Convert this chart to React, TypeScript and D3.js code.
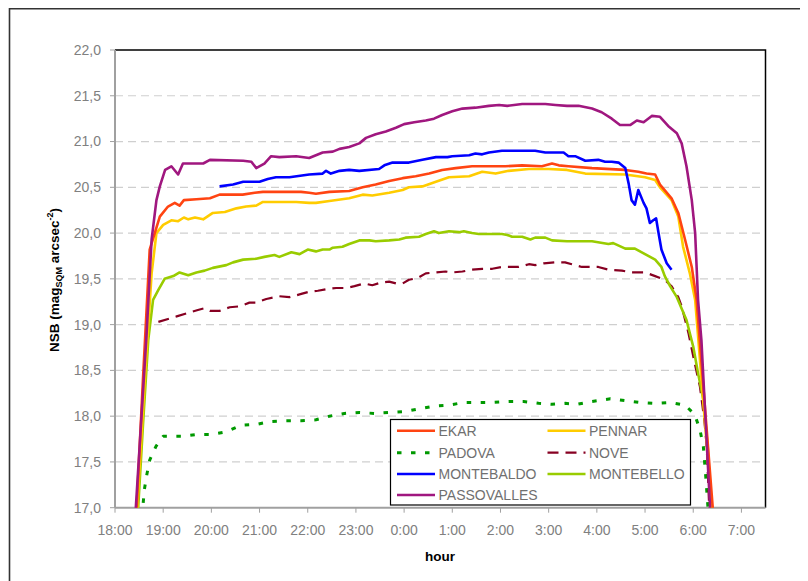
import React from "react";
import * as d3 from "d3";

// Night sky brightness (mag_SQM arcsec^-2) by station, time in hours after 18:00
const hourLabels = ["18:00", "19:00", "20:00", "21:00", "22:00", "23:00", "0:00", "1:00", "2:00", "3:00", "4:00", "5:00", "6:00", "7:00"];
const yTicks = [17, 17.5, 18, 18.5, 19, 19.5, 20, 20.5, 21, 21.5, 22];

const ekarHours = [0.44, 0.58, 0.72, 0.93, 1.1, 1.24, 1.34, 1.43, 1.69, 1.97, 2.17, 2.65, 2.9, 3.07, 3.48, 3.86, 4.03, 4.17, 4.45, 4.86, 5.14, 5.41, 5.69, 5.97, 6.24, 6.52, 6.79, 7.07, 7.41, 7.76, 8.1, 8.45, 8.86, 9.07, 9.21, 9.41, 9.9, 10.59, 10.86, 11.03, 11.21, 11.31, 11.55, 11.69, 11.83, 11.97, 12.07, 12.42];
const ekarNsb = [16.9, 18.4, 19.82, 20.18, 20.29, 20.33, 20.3, 20.36, 20.37, 20.38, 20.42, 20.42, 20.44, 20.45, 20.45, 20.45, 20.44, 20.43, 20.45, 20.46, 20.5, 20.53, 20.57, 20.6, 20.62, 20.65, 20.69, 20.71, 20.73, 20.73, 20.73, 20.74, 20.73, 20.76, 20.74, 20.73, 20.71, 20.69, 20.67, 20.65, 20.64, 20.53, 20.38, 20.22, 19.93, 19.63, 19.27, 16.9];

const pennarHours = [0.45, 0.62, 0.76, 0.86, 1.0, 1.17, 1.31, 1.43, 1.52, 1.66, 1.83, 2.03, 2.28, 2.52, 2.72, 2.93, 3.07, 3.41, 3.76, 4.03, 4.17, 4.45, 4.86, 5.14, 5.34, 5.69, 5.97, 6.1, 6.38, 6.66, 6.93, 7.35, 7.62, 7.9, 8.17, 8.59, 9.0, 9.38, 9.76, 10.59, 11.0, 11.21, 11.31, 11.55, 11.69, 11.79, 11.93, 12.04, 12.4];
const pennarNsb = [16.9, 18.4, 19.56, 20.0, 20.09, 20.14, 20.13, 20.17, 20.15, 20.17, 20.15, 20.22, 20.23, 20.27, 20.29, 20.3, 20.34, 20.34, 20.34, 20.33, 20.33, 20.35, 20.38, 20.42, 20.41, 20.44, 20.47, 20.5, 20.51, 20.56, 20.61, 20.62, 20.67, 20.65, 20.68, 20.7, 20.7, 20.69, 20.65, 20.64, 20.61, 20.58, 20.5, 20.36, 20.18, 19.85, 19.56, 19.27, 16.9];

const padovaHours = [0.56, 0.61, 0.66, 0.72, 0.85, 1.0, 1.38, 1.69, 2.0, 2.31, 2.62, 2.93, 3.21, 3.55, 3.86, 4.17, 4.45, 4.76, 5.07, 5.38, 5.69, 6.0, 6.31, 6.62, 6.93, 7.24, 7.55, 7.86, 8.17, 8.48, 8.79, 9.07, 9.34, 9.6, 9.9, 10.28, 10.59, 10.9, 11.21, 11.52, 11.83, 12.03, 12.14, 12.21, 12.26, 12.32];
const padovaNsb = [16.9, 17.2, 17.36, 17.52, 17.67, 17.78, 17.78, 17.8, 17.8, 17.83, 17.9, 17.91, 17.94, 17.95, 17.95, 17.96, 18.0, 18.03, 18.04, 18.03, 18.04, 18.05, 18.08, 18.11, 18.12, 18.15, 18.15, 18.15, 18.16, 18.16, 18.14, 18.13, 18.14, 18.13, 18.16, 18.19, 18.17, 18.15, 18.14, 18.15, 18.12, 18.02, 17.85, 17.67, 17.34, 16.9];

const noveHours = [0.9, 1.28, 1.72, 1.86, 1.97, 2.17, 2.38, 2.59, 2.79, 2.93, 3.14, 3.41, 3.62, 3.83, 4.03, 4.21, 4.41, 4.59, 4.79, 4.97, 5.17, 5.34, 5.52, 5.69, 5.83, 5.97, 6.1, 6.28, 6.45, 6.66, 6.86, 7.0, 7.21, 7.41, 7.62, 7.83, 8.03, 8.17, 8.38, 8.59, 8.72, 8.9, 9.14, 9.34, 9.48, 9.69, 10.03, 10.24, 10.52, 10.72, 11.0, 11.21, 11.41, 11.55, 11.69, 11.76, 11.9, 12.03, 12.14, 12.23, 12.28, 12.34];
const noveNsb = [19.03, 19.09, 19.16, 19.18, 19.15, 19.15, 19.19, 19.2, 19.24, 19.24, 19.28, 19.31, 19.3, 19.33, 19.36, 19.37, 19.39, 19.4, 19.4, 19.42, 19.45, 19.43, 19.46, 19.47, 19.45, 19.45, 19.49, 19.51, 19.56, 19.57, 19.58, 19.57, 19.58, 19.6, 19.61, 19.61, 19.63, 19.63, 19.63, 19.66, 19.65, 19.67, 19.68, 19.68, 19.66, 19.63, 19.63, 19.6, 19.59, 19.57, 19.57, 19.53, 19.49, 19.42, 19.3, 19.2, 18.91, 18.58, 18.32, 17.96, 17.67, 16.9];

const montebaldoHours = [2.17, 2.45, 2.66, 3.0, 3.17, 3.34, 3.62, 4.03, 4.31, 4.38, 4.48, 4.66, 4.86, 5.07, 5.48, 5.59, 5.76, 6.1, 6.38, 6.66, 6.9, 7.0, 7.35, 7.48, 7.62, 7.76, 8.03, 8.59, 8.72, 8.93, 9.21, 9.31, 9.41, 9.55, 9.76, 10.03, 10.17, 10.31, 10.45, 10.59, 10.66, 10.72, 10.79, 10.86, 10.97, 11.03, 11.1, 11.17, 11.23, 11.28, 11.34, 11.45, 11.55];
const montebaldoNsb = [20.51, 20.53, 20.56, 20.56, 20.59, 20.61, 20.61, 20.64, 20.65, 20.68, 20.65, 20.68, 20.69, 20.68, 20.7, 20.74, 20.77, 20.77, 20.8, 20.83, 20.83, 20.84, 20.85, 20.87, 20.86, 20.88, 20.9, 20.9, 20.9, 20.88, 20.88, 20.88, 20.84, 20.84, 20.79, 20.8, 20.78, 20.78, 20.77, 20.71, 20.54, 20.36, 20.31, 20.47, 20.33, 20.27, 20.11, 20.14, 20.16, 20.0, 19.82, 19.67, 19.6];

const montebelloHours = [0.47, 0.58, 0.69, 0.79, 0.9, 1.03, 1.21, 1.34, 1.52, 1.69, 1.86, 2.03, 2.31, 2.45, 2.66, 2.93, 3.1, 3.31, 3.41, 3.66, 3.83, 4.0, 4.17, 4.31, 4.45, 4.52, 4.72, 4.86, 5.07, 5.28, 5.41, 5.69, 5.9, 6.03, 6.31, 6.45, 6.62, 6.72, 6.93, 7.14, 7.24, 7.41, 7.55, 8.03, 8.14, 8.24, 8.45, 8.62, 8.72, 8.93, 9.07, 9.38, 9.62, 9.9, 10.24, 10.34, 10.59, 10.79, 11.0, 11.21, 11.34, 11.41, 11.52, 11.66, 11.86, 12.0, 12.1, 12.21, 12.3, 12.38];
const montebelloNsb = [16.9, 17.9, 18.83, 19.27, 19.38, 19.5, 19.53, 19.57, 19.54, 19.57, 19.59, 19.62, 19.65, 19.68, 19.71, 19.72, 19.74, 19.76, 19.74, 19.79, 19.77, 19.82, 19.8, 19.82, 19.82, 19.84, 19.85, 19.88, 19.92, 19.92, 19.91, 19.92, 19.93, 19.95, 19.96, 19.99, 20.02, 20.0, 20.02, 20.01, 20.02, 20.0, 19.99, 19.99, 19.98, 19.96, 19.96, 19.93, 19.95, 19.95, 19.92, 19.91, 19.91, 19.91, 19.88, 19.89, 19.83, 19.83, 19.77, 19.71, 19.63, 19.53, 19.42, 19.3, 19.05, 18.76, 18.47, 18.18, 17.67, 16.9];

const passovallesHours = [0.42, 0.55, 0.656, 0.76, 0.86, 0.93, 1.04, 1.17, 1.31, 1.41, 1.83, 1.97, 2.66, 2.83, 2.93, 3.1, 3.24, 3.41, 3.76, 4.03, 4.31, 4.52, 4.66, 4.86, 5.07, 5.21, 5.41, 5.62, 5.83, 6.0, 6.21, 6.45, 6.62, 6.79, 7.0, 7.21, 7.48, 7.76, 7.97, 8.14, 8.45, 8.93, 9.14, 9.38, 9.62, 9.9, 10.1, 10.31, 10.48, 10.69, 10.83, 10.97, 11.14, 11.31, 11.48, 11.66, 11.76, 11.86, 11.97, 12.04, 12.1, 12.17, 12.36];
const passovallesNsb = [16.9, 18.0, 18.9, 19.93, 20.36, 20.51, 20.69, 20.73, 20.64, 20.76, 20.76, 20.8, 20.79, 20.78, 20.71, 20.76, 20.84, 20.83, 20.84, 20.82, 20.88, 20.89, 20.92, 20.94, 20.98, 21.04, 21.08, 21.11, 21.15, 21.19, 21.21, 21.23, 21.25, 21.29, 21.33, 21.36, 21.37, 21.39, 21.4, 21.39, 21.41, 21.41, 21.4, 21.39, 21.39, 21.36, 21.32, 21.25, 21.18, 21.18, 21.23, 21.21, 21.28, 21.27, 21.17, 21.09, 20.98, 20.73, 20.36, 20.0, 19.27, 18.83, 16.9];

type Series = { name: string; hours: number[]; nsb: number[]; color: string; dash?: string; width: number };

const series: Series[] = [
  { name: "EKAR", hours: ekarHours, nsb: ekarNsb, color: "#FF4412", width: 2.6 },
  { name: "PENNAR", hours: pennarHours, nsb: pennarNsb, color: "#FFCC00", width: 2.6 },
  { name: "PADOVA", hours: padovaHours, nsb: padovaNsb, color: "#009900", dash: "4.5,9.5", width: 3 },
  { name: "NOVE", hours: noveHours, nsb: noveNsb, color: "#870022", dash: "11,7", width: 2.2 },
  { name: "MONTEBALDO", hours: montebaldoHours, nsb: montebaldoNsb, color: "#0000FF", width: 2.6 },
  { name: "MONTEBELLO", hours: montebelloHours, nsb: montebelloNsb, color: "#99CC00", width: 2.6 },
  { name: "PASSOVALLES", hours: passovallesHours, nsb: passovallesNsb, color: "#A0177F", width: 2.6 },
];

// drawing order: later entries on top
const drawOrder = ["PADOVA", "NOVE", "MONTEBELLO", "PENNAR", "EKAR", "MONTEBALDO", "PASSOVALLES"];

const left = 115;
const right = 765.5;
const top = 50;
const bottom = 507.7;

export default function App() {
  const x = d3.scaleLinear().domain([0, 13.5]).range([left, right]);
  const y = d3.scaleLinear().domain([17, 22]).range([bottom, top]);
  const line = d3
    .line<[number, number]>()
    .x((d) => x(d[0]))
    .y((d) => y(d[1]));

  const font = "'Liberation Sans', Arial, sans-serif";
  const hourTicks = hourLabels.map((_, i) => i);

  const legendCols = [397, 547.5];
  const legendRows = [430.7, 452.7, 474, 495];

  return (
    <svg width={800} height={573} style={{ display: "block" }} fontFamily={font}>
      <g transform="translate(-8,-8)">
        <rect x={8} y={8} width={800} height={573} fill="#fff" />
        {/* chart frame */}
        <path d="M9.5,600 L9.5,8.8 L820,8.8" fill="none" stroke="#333" strokeWidth={1.6} />

        <defs>
          <clipPath id="plotClip">
            <rect x={left} y={top} width={right - left} height={bottom - top} />
          </clipPath>
        </defs>

        {/* horizontal gridlines */}
        {yTicks.slice(1, -1).map((t) => (
          <line key={t} x1={left} x2={right} y1={y(t)} y2={y(t)} stroke="#cfcfcf" strokeWidth={1.2} strokeDasharray="8,5" />
        ))}

        {/* plot border (top and right) */}
        <path d={`M${left},${top} L${right},${top} L${right},${bottom}`} fill="none" stroke="#000" strokeWidth={1.5} />

        {/* y axis */}
        <line x1={left} x2={left} y1={top} y2={bottom} stroke="#a0a0a0" strokeWidth={2} />
        {yTicks.map((t) => (
          <g key={t}>
            <line x1={left - 5} x2={left} y1={y(t)} y2={y(t)} stroke="#a0a0a0" strokeWidth={1} />
            <text x={101} y={y(t)} dy="0.35em" textAnchor="end" fontSize={14} fill="#808080">
              {d3.format(".1f")(t).replace(".", ",")}
            </text>
          </g>
        ))}

        {/* x axis */}
        <line x1={left} x2={right} y1={bottom} y2={bottom} stroke="#a0a0a0" strokeWidth={2} />
        {hourTicks.map((h, i) => (
          <g key={h}>
            <line x1={x(h)} x2={x(h)} y1={bottom} y2={bottom + 5} stroke="#a0a0a0" strokeWidth={1} />
            <text x={x(h)} y={535} textAnchor="middle" fontSize={14} fill="#808080">
              {hourLabels[i]}
            </text>
          </g>
        ))}

        {/* series */}
        <g clipPath="url(#plotClip)">
          {drawOrder.map((name) => {
            const s = series.find((d) => d.name === name)!;
            const pts = s.hours.map((h, i) => [h, s.nsb[i]] as [number, number]);
            return (
              <path
                key={s.name}
                d={line(pts) || ""}
                fill="none"
                stroke={s.color}
                strokeWidth={s.width}
                strokeDasharray={s.dash}
                strokeLinejoin="round"
              />
            );
          })}
        </g>

        {/* legend */}
        <rect x={390.5} y={419.5} width={300} height={85.5} fill="#fff" stroke="#000" strokeWidth={1.2} />
        {series.map((s, i) => {
          const cx = legendCols[i % 2];
          const cy = legendRows[Math.floor(i / 2)];
          return (
            <g key={s.name}>
              <line x1={cx} x2={cx + 38} y1={cy} y2={cy} stroke={s.color} strokeWidth={s.width} strokeDasharray={s.dash} />
              <text x={cx + 41.5} y={cy} dy="0.36em" fontSize={14} fill="#707070">
                {s.name}
              </text>
            </g>
          );
        })}

        {/* axis titles */}
        <text x={440} y={561} textAnchor="middle" fontSize={13.5} fontWeight="bold" fill="#000">
          hour
        </text>
        <text transform="translate(59,280) rotate(-90)" textAnchor="middle" fontSize={13.5} fontWeight="bold" fill="#000">
          NSB (mag
          <tspan fontSize={9} dy={3}>SQM</tspan>
          <tspan dy={-3}> arcsec</tspan>
          <tspan fontSize={9} dy={-6}>-2</tspan>
          <tspan dy={6}>)</tspan>
        </text>
      </g>
    </svg>
  );
}
